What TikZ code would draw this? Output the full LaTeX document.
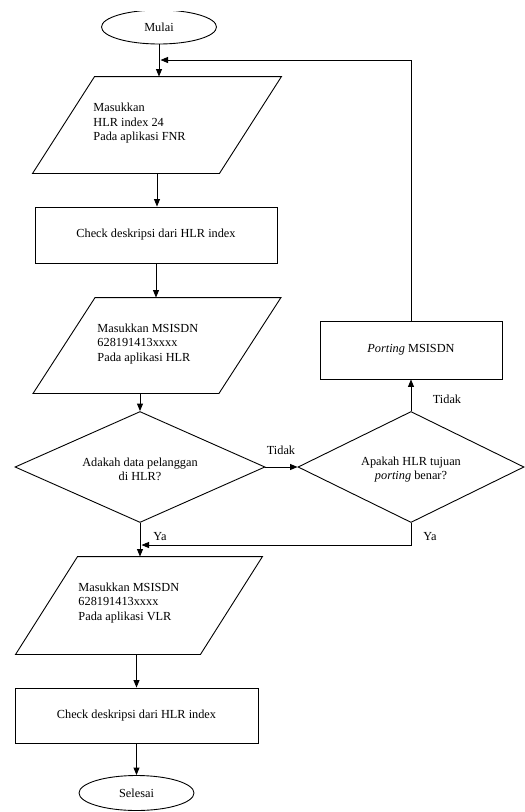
\documentclass[tikz,border=0pt]{standalone}
\usepackage{fontspec}
\setmainfont{Liberation Serif}
\usetikzlibrary{shapes.geometric,arrows.meta}

% slanted input/output box drawn around an invisible frame node
\newcommand\drawio[2]{%
  \draw ([xshift=#2]#1.north west) -- ([xshift=#2]#1.north east)
     -- ([xshift=-#2]#1.south east) -- ([xshift=-#2]#1.south west) -- cycle;}

\begin{document}
\begin{tikzpicture}[x=1pt,y=-1pt,line width=0.9pt,
  font=\fontsize{12.3}{14.5}\selectfont,
  arr/.style={-{Triangle[length=7.5pt,width=6pt]}},
  terminal/.style={draw,ellipse,minimum width=115pt,minimum height=34pt,inner sep=0pt},
  procbox/.style={draw,rectangle,inner sep=0pt},
  ioframe/.style={rectangle,inner sep=0pt},
  decision/.style={draw,diamond,inner sep=0pt},
  lbl/.style={inner sep=0pt},
  txt/.style={align=left,anchor=west,inner sep=0pt}]

\useasboundingbox (0,0) rectangle (525,812);

% start terminal (cut off at the top edge)
\begin{scope}
  \clip (0,11) rectangle (525,812);
  \node[terminal] (mulai) at (159,27) {Mulai};
\end{scope}

% input: HLR index on FNR
\node[ioframe,minimum width=186pt,minimum height=96pt] (p1) at (157,125) {};
\drawio{p1}{31pt}
\node[txt] (t1) at (93,123.5) {Masukkan\\HLR index 24\\Pada aplikasi FNR};
\draw[arr] (mulai.south) -- (mulai.south |- p1.north);

% check description
\node[procbox,minimum width=242pt,minimum height=56pt] (r1) at (156,235) {Check deskripsi dari HLR index};
\draw[arr] (p1.south) -- (p1.south |- r1.north);

% input: MSISDN on HLR
\node[ioframe,minimum width=185pt,minimum height=95pt] (p2) at (157,345.5) {};
\drawio{p2}{31pt}
\node[txt] (t2) at (97,344) {Masukkan MSISDN\\628191413xxxx\\Pada aplikasi HLR};
\draw[arr] (r1.south) -- (r1.south |- p2.north);

% decision: subscriber data in HLR?
\node[decision,minimum width=250pt,minimum height=111pt] (d1) at (140,467) {};
\node[lbl,align=center] (d1t) at (140,469.5) {Adakah data pelanggan\\di HLR?};
\draw[arr] (d1.north |- p2.south) -- (d1.north);

% decision: porting target HLR correct?
\node[decision,minimum width=226pt,minimum height=111pt] (d2) at (411,467) {};
\node[lbl,align=center] (d2t) at (411,469.5) {Apakah HLR tujuan\\\textit{porting} benar?};
\draw[arr] (d1.east) -- (d2.west);
\node[lbl] (tidak1) at (281,450) {Tidak};

% porting process and loop back to the top
\node[procbox,minimum width=182pt,minimum height=58pt] (port) at (411,350) {\textit{Porting} MSISDN};
\draw[arr] (d2.north) -- (port.south);
\node[lbl] (tidak2) at (447,399) {Tidak};
\coordinate (back) at (160.5,60);
\draw[arr] (port.north) |- (back);

% input: MSISDN on VLR
\node[ioframe,minimum width=184pt,minimum height=97pt] (p3) at (139,605.5) {};
\drawio{p3}{31pt}
\node[txt] (t3) at (78,603) {Masukkan MSISDN\\628191413xxxx\\Pada aplikasi VLR};
\draw[arr] (d1.south) -- (d1.south |- p3.north);
\node[lbl] (ya1) at (160,537) {Ya};
\coordinate (join) at (141.5,545);
\draw[arr] (d2.south) |- (join);
\node[lbl] (ya2) at (430,537) {Ya};

% final check and end terminal
\node[procbox,minimum width=243pt,minimum height=55pt] (r2) at (136.5,715.5) {Check deskripsi dari HLR index};
\draw[arr] (r2.north |- p3.south) -- (r2.north);
\node[terminal,minimum height=35pt] (selesai) at (136.5,793) {Selesai};
\draw[arr] (r2.south) -- (selesai.north);

\end{tikzpicture}
\end{document}
